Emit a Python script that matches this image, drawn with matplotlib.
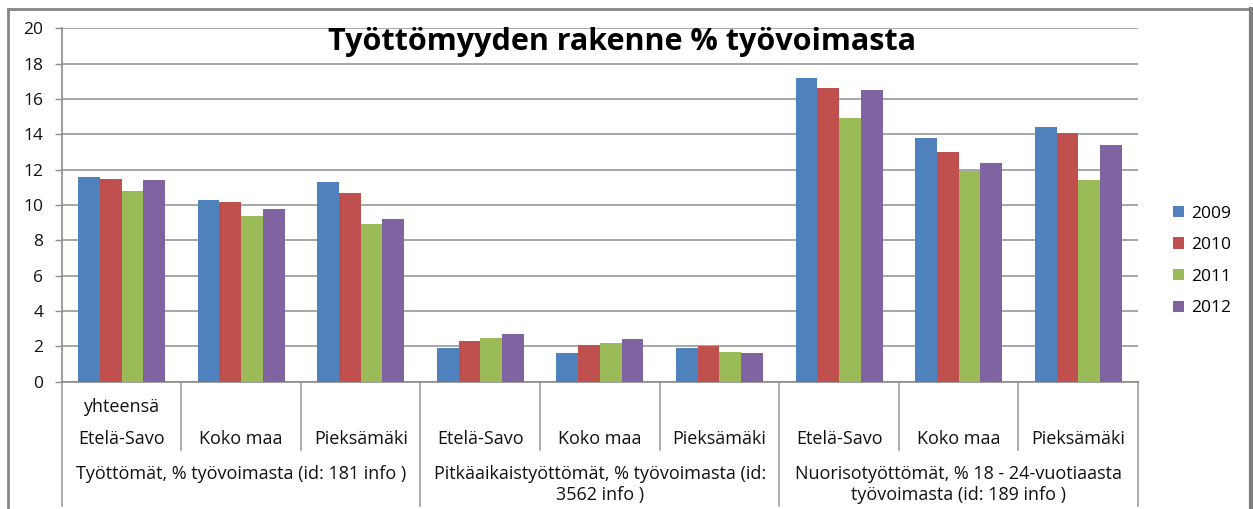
import matplotlib
matplotlib.use("Agg")
import matplotlib.pyplot as plt
from matplotlib.lines import Line2D
from matplotlib.patches import Patch
import numpy as np

plt.rcParams['font.family'] = ['Open Sans', 'DejaVu Sans']

# ---- data ----
years = ['2009', '2010', '2011', '2012']
categories = ['Etelä-Savo', 'Koko maa', 'Pieksämäki',
              'Etelä-Savo', 'Koko maa', 'Pieksämäki',
              'Etelä-Savo', 'Koko maa', 'Pieksämäki']
first_extra_label = 'yhteensä'
group_labels = ['Työttömät, % työvoimasta (id: 181 info )',
                'Pitkäaikaistyöttömät, % työvoimasta (id:\n3562 info )',
                'Nuorisotyöttömät, % 18 - 24-vuotiaasta\ntyövoimasta (id: 189 info )']
v2009 = [11.6, 10.3, 11.3, 1.9, 1.6, 1.9, 17.2, 13.8, 14.4]
v2010 = [11.5, 10.2, 10.7, 2.3, 2.1, 2.0, 16.6, 13.0, 14.1]
v2011 = [10.8, 9.4, 8.9, 2.5, 2.2, 1.7, 14.9, 11.9, 11.4]
v2012 = [11.4, 9.8, 9.2, 2.7, 2.4, 1.6, 16.5, 12.4, 13.4]
yticks = [0, 2, 4, 6, 8, 10, 12, 14, 16, 18, 20]
title = 'Työttömyyden rakenne % työvoimasta'

series = [v2009, v2010, v2011, v2012]
colors = ['#4F81BD', '#C0504D', '#9BBB59', '#8064A2']
txtc = '#111111'
FS = 13

W, H = 1253, 509
fig = plt.figure(figsize=(W / 100, H / 100), dpi=100)
fig.patch.set_facecolor('white')

def fx(px):
    return px / W

def fy(py):
    return (H - py) / H

ax_left, ax_right = 61.7, 1138.1
ax_top, ax_bot = 28.4, 381.7
ax = fig.add_axes([fx(ax_left), fy(ax_bot), fx(ax_right) - fx(ax_left), fy(ax_top) - fy(ax_bot)])

n = len(categories)
x = np.arange(n)
bw = 1 / 5.5
for i, (vals, c, yr) in enumerate(zip(series, colors, years)):
    ax.bar(x + (i - 1.5) * bw, vals, width=bw, color=c, linewidth=0, label=yr, zorder=3)

ax.set_xlim(-0.5, n - 0.5)
ax.set_ylim(0, 20)
ax.set_yticks(yticks)
ax.set_yticklabels([str(t) for t in yticks], fontsize=12.5, color=txtc)
ax.tick_params(axis='y', direction='out', length=4.8, width=1, color='#8c8c8c', pad=8.4)
ax.set_xticks([])
ax.yaxis.grid(True, color='#a6a6a6', linewidth=1.4, zorder=0)
ax.set_axisbelow(True)
for s in ['top', 'right']:
    ax.spines[s].set_visible(False)
for s in ['left', 'bottom']:
    ax.spines[s].set_color('#8c8c8c')
    ax.spines[s].set_linewidth(1.2)

# label area
axh = ax_bot - ax_top
def ay(py):
    return (ax_bot - py) / axh

tr = ax.get_xaxis_transform()
for k, b in enumerate(np.arange(-0.5, n, 1.0)):
    full = (k % 3 == 0)
    ybottom = ay(506) if full else ay(450)
    ax.plot([b, b], [0, ybottom], transform=tr, color='#a0a0a0', lw=1.2, clip_on=False)

for xi, lab in zip(x, categories):
    ax.text(xi, ay(439), lab, transform=tr, ha='center', va='center', fontsize=FS, color=txtc)
ax.text(0, ay(406.7), first_extra_label, transform=tr, ha='center', va='center', fontsize=FS, color=txtc)
line_y = [474, 495]
for g, lab in enumerate(group_labels):
    for li, line in enumerate(lab.split('\n')):
        ax.text(3 * g + 1, ay(line_y[li]), line, transform=tr, ha='center', va='center',
                fontsize=FS, color=txtc)

# title
fig.text(fx(622), fy(42), title, ha='center', va='center', fontsize=22, fontweight='bold', color='black')

# legend
handles = [Patch(facecolor=c, edgecolor='none') for c in colors]
fig.legend(handles, years, loc='center left', bbox_to_anchor=(fx(1173), fy(261)), frameon=False,
           fontsize=12.5, handlelength=0.63, handleheight=0.63, handletextpad=0.4,
           labelspacing=0.9, borderpad=0, borderaxespad=0)

# chart border
bc = '#868686'
fig.add_artist(Line2D([fx(8.3), fx(8.3)], [fy(9.3), 0], color=bc, lw=2))
fig.add_artist(Line2D([fx(8.3), fx(1250.7)], [fy(9.3), fy(9.3)], color=bc, lw=2))
fig.add_artist(Line2D([fx(1250.7), fx(1250.7)], [fy(9.3), 0], color='#7f7f7f', lw=3))

fig.savefig('out.png', dpi=100, facecolor='white')
